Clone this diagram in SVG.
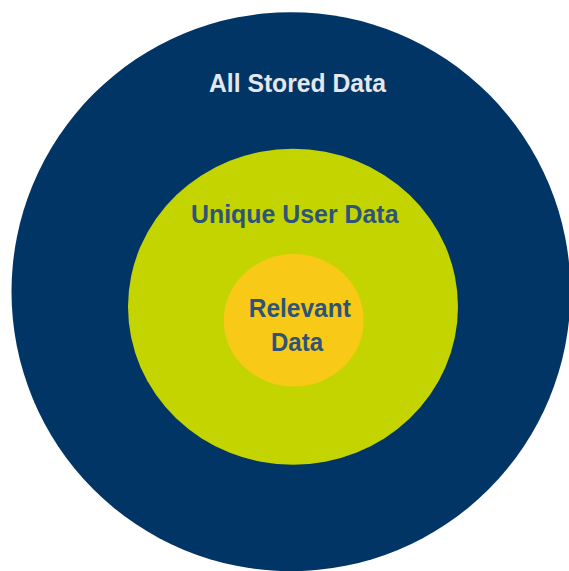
<svg xmlns="http://www.w3.org/2000/svg" width="569" height="571" viewBox="0 0 569 571">
  <style>
    .lbl { font-family: "Liberation Sans", Arial, sans-serif; font-weight: bold; font-size: 26px; }
    .light { fill: #e4e7ec; }
    .dark { fill: #2d5478; }
  </style>
  <rect width="569" height="571" fill="#ffffff"/>
  <g id="all-stored-data">
    <circle cx="291" cy="291.7" r="279.5" fill="#013565"/>
    <text class="lbl light" x="209" y="92.3" textLength="177" lengthAdjust="spacingAndGlyphs">All Stored Data</text>
  </g>
  <g id="unique-user-data">
    <ellipse cx="293" cy="306.8" rx="165" ry="158" fill="#c3d400"/>
    <text class="lbl dark" x="191" y="223.3" textLength="207.5" lengthAdjust="spacingAndGlyphs">Unique User Data</text>
  </g>
  <g id="relevant-data">
    <ellipse cx="293.7" cy="320.3" rx="70" ry="66.2" fill="#f9c917"/>
    <text class="lbl dark" x="248.8" y="316.7" textLength="102" lengthAdjust="spacingAndGlyphs">Relevant</text>
    <text class="lbl dark" x="271" y="350.7" textLength="52" lengthAdjust="spacingAndGlyphs">Data</text>
  </g>
  <g id="connectors"></g>
</svg>
